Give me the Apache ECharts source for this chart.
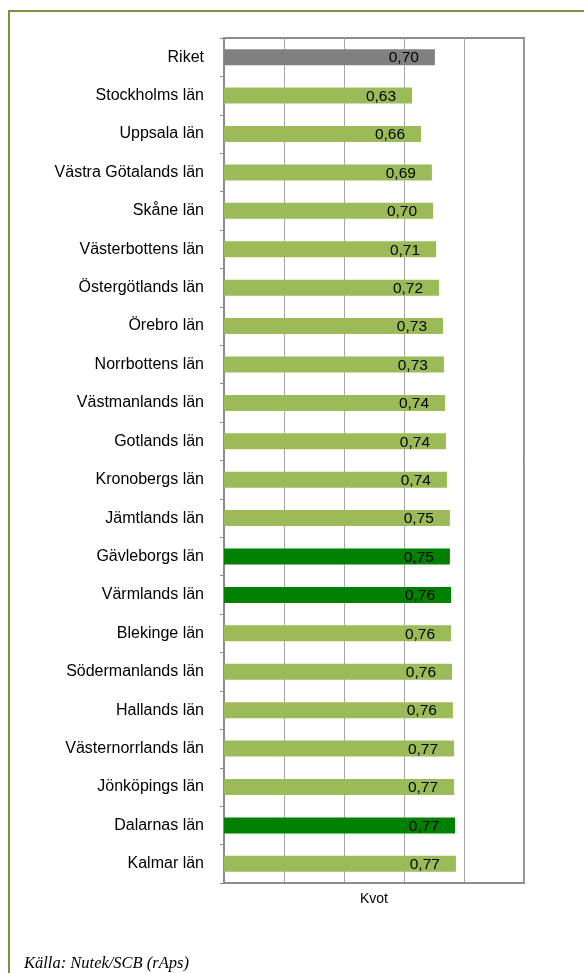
<!DOCTYPE html>
<html>
<head>
<meta charset="utf-8">
<script src="https://cdn.jsdelivr.net/npm/echarts@6/dist/echarts.min.js"></script>
<style>
  html, body { margin: 0; padding: 0; background: #fff; overflow: hidden; }
  #frame { position: absolute; left: 8px; top: 10px; width: 640px; height: 1000px; border: 2px solid #77933C; box-sizing: border-box; }
  #EChartsDom { position: absolute; left: 0; top: 0; width: 584px; height: 973px; }
</style>
</head>
<body>
<div id="frame"></div>
<div id="EChartsDom"></div>
<script>
// kategorier (län) och kvoter, uppifrån och ned
var regions = ['Riket', 'Stockholms län', 'Uppsala län', 'Västra Götalands län', 'Skåne län',
  'Västerbottens län', 'Östergötlands län', 'Örebro län', 'Norrbottens län', 'Västmanlands län',
  'Gotlands län', 'Kronobergs län', 'Jämtlands län', 'Gävleborgs län', 'Värmlands län',
  'Blekinge län', 'Södermanlands län', 'Hallands län', 'Västernorrlands län', 'Jönköpings län',
  'Dalarnas län', 'Kalmar län'];
var ratios = [0.703, 0.627, 0.657, 0.693, 0.697, 0.707, 0.717, 0.730, 0.733, 0.737,
  0.740, 0.743, 0.753, 0.753, 0.757, 0.757, 0.760, 0.763, 0.767, 0.767, 0.770, 0.773];
var totalName = 'Riket';
var highlighted = ['Gävleborgs län', 'Värmlands län', 'Dalarnas län'];

var myChart = echarts.init(document.getElementById('EChartsDom'));

var barData = [];
for (var i = 0; i < regions.length; i++) {
  var color = '#9BBB59';
  if (regions[i] == totalName) {
    color = '#808080';
  } else if (highlighted.indexOf(regions[i]) >= 0) {
    color = '#008000';
  }
  barData.push({ value: ratios[i], itemStyle: { color: color } });
}

var option = {
  animation: false,
  textStyle: { fontFamily: 'Liberation Sans, Arial, sans-serif' },
  title: {
    text: 'Källa: Nutek/SCB (rAps)',
    left: 19,
    top: 950,
    textStyle: {
      fontFamily: 'Liberation Serif, serif',
      fontStyle: 'italic',
      fontWeight: 'normal',
      fontSize: 16.5,
      color: '#000'
    }
  },
  grid: {
    left: 224, right: 60, top: 38, bottom: 90,
    show: true,
    borderColor: '#8C8C8C',
    borderWidth: 2,
    containLabel: false
  },
  xAxis: {
    type: 'value',
    min: 0,
    max: 1,
    interval: 0.2,
    name: 'Kvot',
    nameLocation: 'middle',
    nameGap: 9,
    nameTextStyle: { fontSize: 14, color: '#000' },
    axisLabel: { show: false },
    axisTick: { show: false },
    axisLine: { show: true, lineStyle: { color: '#8C8C8C', width: 2 } },
    splitLine: { show: true, lineStyle: { color: '#A6A6A6', width: 1 } }
  },
  yAxis: {
    type: 'category',
    inverse: true,
    data: regions,
    axisLine: { show: true, lineStyle: { color: '#8C8C8C', width: 2 } },
    axisTick: { show: true, length: 4, lineStyle: { color: '#8C8C8C', width: 1 } },
    axisLabel: { fontSize: 16, color: '#000', margin: 20, padding: [2, 0, 0, 0] }
  },
  series: [{
    type: 'bar',
    data: barData,
    barWidth: 16,
    label: {
      show: true,
      position: 'insideRight',
      distance: 16,
      offset: [0, 1],
      fontSize: 15.5,
      color: '#000',
      formatter: function (p) {
        return p.value.toFixed(2).replace('.', ',');
      }
    }
  }]
};

myChart.setOption(option);
</script>
</body>
</html>
